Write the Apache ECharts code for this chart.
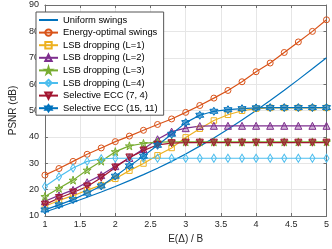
<!DOCTYPE html>
<html><head><meta charset="utf-8">
<script src="https://cdn.jsdelivr.net/npm/echarts@6/dist/echarts.min.js"></script>
<style>html,body{margin:0;padding:0;background:#fff}#c{width:332px;height:249px}</style>
</head><body><div id="c"></div>
<script>
const xValues = [1,1.2,1.4,1.6,1.8,2,2.2,2.4,2.6,2.8,3,3.2,3.4,3.6,3.8,4,4.2,4.4,4.6,4.8,5];
const uniformSwings = [11.5,13.3,15.2,17.1,19.1,21.2,23.4,25.7,28.1,30.7,33.5,36.5,39.6,42.9,46.4,50.0,53.8,57.7,61.7,65.8,70.0];
const energyOptimal = [25.5,28.0,30.7,33.4,35.8,38.2,40.3,42.5,44.7,46.8,49.3,51.9,54.7,57.6,60.9,64.7,68.0,72.0,76.0,80.0,84.4];
const lsbL1 = [13.7,15.9,17.7,19.8,21.7,24.1,27.2,29.9,33.0,35.8,39.8,43.1,46.2,48.4,49.9,50.7,51.0,51.0,51.0,51.0,51.0];
const lsbL2 = [15.6,17.8,19.9,22.8,25.5,28.9,32.0,35.4,39.1,42.0,43.3,44.1,44.2,44.2,44.2,44.2,44.2,44.2,44.2,44.2,44.2];
const lsbL3 = [17.4,20.5,23.6,27.4,30.8,34.4,36.6,37.5,38.0,38.1,38.1,38.1,38.1,38.1,38.1,38.1,38.1,38.1,38.1,38.1,38.1];
const lsbL4 = [21.2,24.9,28.2,30.7,31.7,31.9,31.9,31.9,31.9,31.9,31.9,31.9,31.9,31.9,31.9,31.9,31.9,31.9,31.9,31.9,31.9];
const ecc74 = [14.3,16.8,18.9,21.2,24.5,28.4,32.2,34.8,37.0,37.6,37.8,37.8,37.8,37.8,37.8,37.8,37.8,37.8,37.8,37.8,37.8];
const ecc1511 = [12.3,14.2,16.2,18.7,21.4,25.1,29.0,32.7,36.8,41.0,45.4,48.2,49.7,50.3,50.7,51.0,51.1,51.1,51.1,51.1,51.1];
const seriesNames = ['Uniform swings','Energy-optimal swings','LSB dropping (L=1)','LSB dropping (L=2)','LSB dropping (L=3)','LSB dropping (L=4)','Selective ECC (7, 4)','Selective ECC (15, 11)'];
const xTicks = {min:1,max:5,interval:0.5};
const yTicks = {min:10,max:90,interval:10};

const FONT = '"Liberation Sans", Arial, Helvetica, sans-serif';
const STAR = 'path://M50,0 L61,35 L98,35 L68,57 L79,91 L50,70 L21,91 L32,57 L2,35 L39,35 Z';
const HEX = 'path://M50,0 L64,25 L93,25 L79,50 L93,75 L64,75 L50,100 L36,75 L7,75 L21,50 L7,25 L36,25 Z';
const DTRI = 'path://M0,0 L100,0 L50,87 Z';

function pairs(arr){ return xValues.map((x,i)=>[x,arr[i]]); }
function mk(name, arr, color, symbol, size, fill){
  return {
    name, type:'line', data:pairs(arr),
    symbol: symbol || 'none', symbolSize: size || 0, showSymbol: !!symbol,
    lineStyle:{color, width:1.2},
    itemStyle:{color: fill || 'rgba(255,255,255,0)', borderColor: symbol ? color : 'rgba(0,0,0,0)', borderWidth: 1},
    emphasis:{disabled:true}, animation:false, z: 2
  };
}
const series = [
  mk(seriesNames[0], uniformSwings, '#0072BD', null),
  mk(seriesNames[1], energyOptimal, '#D95319', 'circle', 6),
  mk(seriesNames[2], lsbL1, '#EDB120', 'rect', 5.5),
  mk(seriesNames[3], lsbL2, '#7E2F8E', 'triangle', 7, 'rgba(126,47,142,0.35)'),
  mk(seriesNames[4], lsbL3, '#77AC30', STAR, 8, 'rgba(119,172,48,0.5)'),
  mk(seriesNames[5], lsbL4, '#4DBEEE', 'diamond', [5,8]),
  mk(seriesNames[6], ecc74, '#A2142F', DTRI, 7, 'rgba(162,20,47,0.6)'),
  mk(seriesNames[7], ecc1511, '#0072BD', HEX, 8, 'rgba(0,114,189,0.6)')
];

const legendData = seriesNames.map((n,i)=> i===0
  ? {name:n, itemStyle:{color:'rgba(0,0,0,0)', borderColor:'rgba(0,0,0,0)', opacity:0}}
  : {name:n});

const axisColor = '#6e6e6e';
const chart = echarts.init(document.getElementById('c'), null, {renderer:'canvas'});
chart.setOption({
  animation:false,
  backgroundColor:'#fff',
  grid:{left:29, right:3, top:5, bottom:29, containLabel:false},
  legend:{
    orient:'vertical', left:36, top:12,
    backgroundColor:'#fff', borderColor:'#555', borderWidth:1,
    padding:[3,6,2,2], itemWidth:19, itemHeight:8, itemGap:2.6,
    textStyle:{fontFamily:FONT, fontSize:9.4, color:'#000', lineHeight:10},
    data: legendData
  },
  xAxis:[
    {type:'value', min:xTicks.min, max:xTicks.max, interval:xTicks.interval, position:'bottom',
     name:'E(Δ) / B', nameLocation:'middle', nameGap:18,
     nameTextStyle:{fontFamily:FONT, fontSize:10, color:'#262626'},
     axisLine:{show:true, lineStyle:{color:axisColor, width:1}},
     axisTick:{show:true, inside:true, length:3, lineStyle:{color:axisColor}},
     axisLabel:{fontFamily:FONT, fontSize:9, color:'#262626', margin:4, showMinLabel:true, showMaxLabel:true},
     splitLine:{show:true, lineStyle:{color:'#e6e6e6', width:1}}},
    {type:'value', min:xTicks.min, max:xTicks.max, interval:xTicks.interval, position:'top',
     axisLine:{show:true, lineStyle:{color:axisColor, width:1}},
     axisTick:{show:true, inside:true, length:3, lineStyle:{color:axisColor}},
     axisLabel:{show:false}, splitLine:{show:false}}
  ],
  yAxis:[
    {type:'value', min:yTicks.min, max:yTicks.max, interval:yTicks.interval, position:'left',
     name:'PSNR (dB)', nameLocation:'middle', nameGap:17,
     nameTextStyle:{fontFamily:FONT, fontSize:10, color:'#262626'},
     axisLine:{show:true, lineStyle:{color:axisColor, width:1}},
     axisTick:{show:true, inside:true, length:3, lineStyle:{color:axisColor}},
     axisLabel:{fontFamily:FONT, fontSize:9, color:'#262626', margin:6, showMinLabel:true, showMaxLabel:true},
     splitLine:{show:true, lineStyle:{color:'#e6e6e6', width:1}}},
    {type:'value', min:yTicks.min, max:yTicks.max, interval:yTicks.interval, position:'right',
     axisLine:{show:true, lineStyle:{color:axisColor, width:1}},
     axisTick:{show:true, inside:true, length:3, lineStyle:{color:axisColor}},
     axisLabel:{show:false}, splitLine:{show:false}}
  ],
  series
});
</script>
</body></html>
